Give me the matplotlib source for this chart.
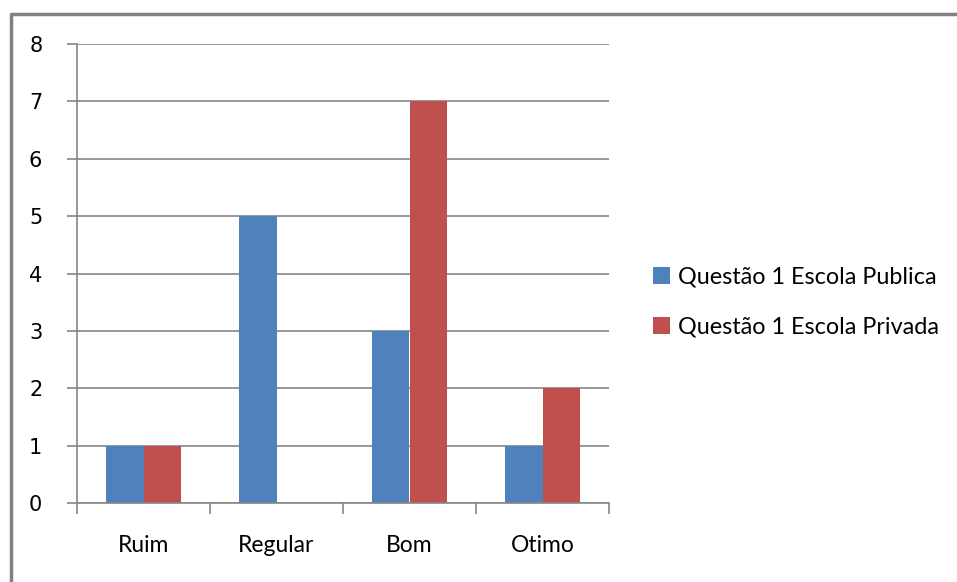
import matplotlib.pyplot as plt
from matplotlib.lines import Line2D
import numpy as np

categories = ['Ruim', 'Regular', 'Bom', 'Otimo']
publica = [1, 5, 3, 1]
privada = [1, 0, 7, 2]
labels = ['Questão 1 Escola Publica', 'Questão 1 Escola Privada']

W, H = 957, 582
fig = plt.figure(figsize=(W / 100, H / 100), dpi=100)
ax = fig.add_axes([77 / W, (H - 503) / H, (609 - 77) / W, (503 - 44) / H])

x = np.arange(len(categories))
bw = 0.285
b1 = ax.bar(x - bw / 2, publica, bw, color='#4F81BD', label=labels[0])
b2 = ax.bar(x + bw / 2, privada, bw, color='#C0504D', label=labels[1])

ax.set_xlim(-0.5, 3.5)
ax.set_ylim(0, 8)
ax.set_yticks(range(9))
ax.yaxis.grid(True, color='#868686', lw=1.2)
ax.set_axisbelow(True)
for s in ['top', 'right']:
    ax.spines[s].set_visible(False)
ax.spines['left'].set_color('#868686')
ax.spines['bottom'].set_color('#868686')
ax.spines['left'].set_linewidth(1.2)
ax.spines['bottom'].set_linewidth(1.2)

ax.set_xticks(np.arange(-0.5, 4, 1))
ax.set_xticklabels([])
ax.set_xticks(x, minor=True)
ax.set_xticklabels(categories, minor=True, fontsize=16.5, family='Lato')
ax.tick_params(axis='x', which='major', length=8, color='#868686', width=1.2)
ax.tick_params(axis='x', which='minor', length=0, pad=23)
ax.tick_params(axis='y', length=7, color='#868686', width=1.2, labelsize=15, pad=18)

fig.legend(handles=[b1, b2], loc='center left', bbox_to_anchor=(632 / W, (H - 302) / H),
           frameon=False, prop={'family': 'Lato', 'size': 16.8}, handlelength=0.72,
           handleheight=0.72, handletextpad=0.35, labelspacing=1.25)

fig.add_artist(Line2D([11 / W, 11 / W, 1], [0, (H - 14) / H, (H - 14) / H],
                      color='#808080', lw=2.5, transform=fig.transFigure))

fig.savefig('out.png', dpi=100)
